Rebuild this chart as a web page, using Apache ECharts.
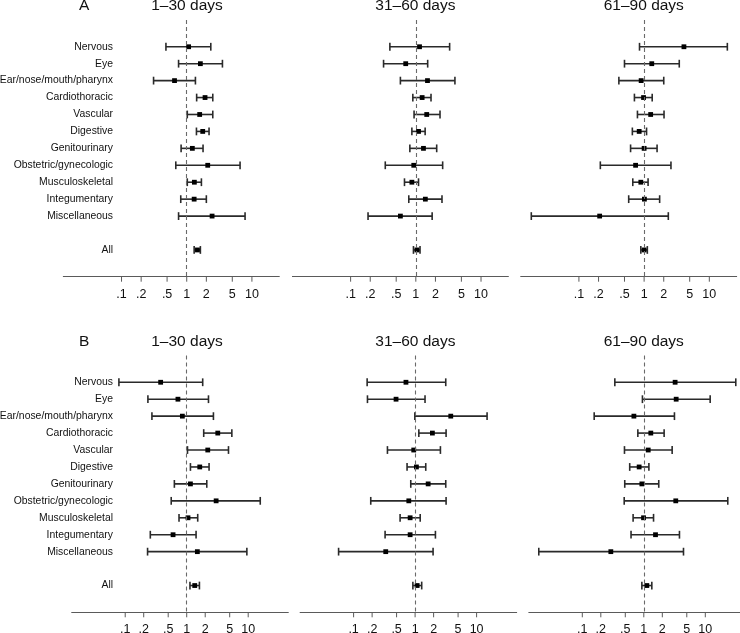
<!DOCTYPE html>
<html>
<head>
<meta charset="utf-8">
<script src="https://cdn.jsdelivr.net/npm/echarts@6/dist/echarts.min.js"></script>
<style>
html,body{margin:0;padding:0;background:#fff;}
#chart{width:740px;height:633px;}
</style>
</head>
<body>
<div id="chart"></div>
<script>
// ---- Data ----
const categories = ['Nervous','Eye','Ear/nose/mouth/pharynx','Cardiothoracic','Vascular','Digestive','Genitourinary','Obstetric/gynecologic','Musculoskeletal','Integumentary','Miscellaneous','All'];
const rowPositions = [1,2,3,4,5,6,7,8,9,10,11,13];
const panelTitles = ['1\u201330 days','31\u201360 days','61\u201390 days'];
const rowLetters = ['A','B'];
const tickValues = [0.1,0.2,0.5,1,2,5,10];

// Panel A
const a1Lo = [0.48,0.75,0.31,1.42,1.02,1.41,0.82,0.68,1.02,0.81,0.75,1.30];
const a1Pt = [1.07,1.62,0.65,1.91,1.58,1.76,1.22,2.10,1.31,1.30,2.45,1.46];
const a1Hi = [2.34,3.53,1.36,2.51,2.51,2.20,1.78,6.58,1.68,2.00,7.85,1.62];

const a2Lo = [0.40,0.32,0.58,0.90,0.94,0.87,0.81,0.34,0.67,0.78,0.185,0.92];
const a2Pt = [1.14,0.70,1.51,1.25,1.47,1.10,1.31,0.93,0.87,1.40,0.58,1.04];
const a2Hi = [3.30,1.52,3.98,1.71,2.35,1.39,2.09,2.58,1.10,2.52,1.78,1.16];

const a3Lo = [0.85,0.50,0.41,0.71,0.79,0.66,0.62,0.213,0.67,0.58,0.0186,0.89];
const a3Pt = [4.08,1.31,0.90,0.98,1.26,0.84,1.00,0.74,0.89,1.01,0.208,1.00];
const a3Hi = [18.9,3.46,2.00,1.33,2.02,1.09,1.58,2.58,1.15,1.73,2.35,1.12];

// Panel B
const b1Lo = [0.079,0.234,0.272,1.89,1.03,1.15,0.63,0.56,0.75,0.256,0.231,1.13];
const b1Pt = [0.377,0.72,0.85,3.20,2.20,1.63,1.15,3.01,1.05,0.60,1.49,1.35];
const b1Hi = [1.82,2.26,2.72,5.42,4.78,2.31,2.12,15.7,1.51,1.42,9.51,1.61];

const b2Lo = [0.166,0.168,0.99,1.15,0.355,0.74,0.85,0.19,0.57,0.325,0.057,0.92];
const b2Pt = [0.71,0.49,3.80,1.91,0.95,1.05,1.63,0.79,0.83,0.83,0.333,1.08];
const b2Hi = [3.15,1.45,14.8,3.19,2.58,1.49,3.15,3.19,1.21,2.14,1.96,1.28];

const b3Lo = [0.338,0.95,0.156,0.80,0.485,0.59,0.49,0.48,0.67,0.62,0.0196,0.93];
const b3Pt = [3.23,3.36,0.69,1.30,1.18,0.84,0.93,3.31,0.99,1.55,0.291,1.12];
const b3Hi = [31.3,12.0,3.15,2.14,2.89,1.21,1.75,23.2,1.44,3.80,4.42,1.35];

const panels = [
  [a1Lo,a1Pt,a1Hi],[a2Lo,a2Pt,a2Hi],[a3Lo,a3Pt,a3Hi],
  [b1Lo,b1Pt,b1Hi],[b2Lo,b2Pt,b2Hi],[b3Lo,b3Pt,b3Hi]
];

// ---- Layout ----
// The x axes are logarithmic: values are placed on a linear axis in log10 units
// and the tick labels show the original ratios.
const FONT = '"Liberation Sans", Arial, Helvetica, sans-serif';
const Y_MIN = -0.58, Y_MAX = 14.58;
const rowLayout = [
  {top: 20, height: 256.7, lefts: [63.3, 292.4, 520.7], width: 216, xmin: -1.893, xmax: 1.42, titleY: 5.5, labelOffset: -53.7},
  {top: 355.5, height: 256.8, lefts: [71.7, 300.1, 528.8], width: 216.6, xmin: -1.87, xmax: 1.652, titleY: 342, labelOffset: -45.3}
];
const oneX = [187, 415.4, 643.8];
const AXIS_COLOR = '#5a5a5a';
const lg = Math.log10;
const tickLogs = tickValues.map(lg);

const grids = [], xAxes = [], yAxes = [], series = [], graphics = [];
const nameByPos = {};
rowPositions.forEach((p,i)=>{ nameByPos[p] = categories[i]; });

function tickFmt(lv){
  const v = Math.pow(10, lv);
  const s = String(Math.round(v*1000)/1000);
  return s.startsWith('0.') ? s.slice(1) : s;
}

for (let r = 0; r < 2; r++) {
  const L = rowLayout[r];
  graphics.push({type:'text', x: 79, y: L.titleY, style:{text: rowLetters[r], font: '15.5px ' + FONT, fill:'#111', textVerticalAlign:'middle'}});
  for (let c = 0; c < 3; c++) {
    const idx = r*3 + c;
    grids.push({left: L.lefts[c], top: L.top, width: L.width, height: L.height, containLabel: false, outerBoundsMode: 'none'});
    xAxes.push({
      type: 'value', gridIndex: idx, min: L.xmin, max: L.xmax, position: 'bottom',
      axisLine: {show: true, onZero: false, lineStyle: {color: AXIS_COLOR, width: 1}},
      axisTick: {show: false},
      axisLabel: {show: true, customValues: tickLogs, formatter: tickFmt, color: '#111', fontSize: 12.5, fontFamily: FONT, margin: 11},
      splitLine: {show: false}, minorTick: {show: false}, minorSplitLine: {show: false}
    });
    yAxes.push({
      type: 'value', gridIndex: idx, inverse: true, min: Y_MIN, max: Y_MAX,
      offset: c === 0 ? L.labelOffset : 0,
      axisLine: {show: false, onZero: false}, axisTick: {show: false}, splitLine: {show: false},
      axisLabel: {
        show: c === 0, customValues: rowPositions, margin: 4,
        formatter: v => nameByPos[v] || '', color: '#111', fontSize: 10.4, fontFamily: FONT
      }
    });
    const [lo, pt, hi] = panels[idx];
    const data = rowPositions.map((p,i)=>[p, lg(lo[i]), lg(pt[i]), lg(hi[i])]);
    series.push({
      type: 'line', xAxisIndex: idx, yAxisIndex: idx, data: [], silent: true, z: 1,
      markLine: {silent: true, symbol: 'none', label: {show: false},
        lineStyle: {type: [4,3], color: '#6a6a6a', width: 1.1}, data: [{xAxis: lg(1)}]}
    });
    series.push({
      type: 'custom', xAxisIndex: idx, yAxisIndex: idx, z: 3, silent: true, clip: false,
      encode: {x: [1,2,3], y: 0},
      data: data,
      renderItem: function(params, api){
        const y = api.value(0);
        const pLo = api.coord([api.value(1), y]);
        const pPt = api.coord([api.value(2), y]);
        const pHi = api.coord([api.value(3), y]);
        const h = 3.9, s = 2.4;
        const st = {stroke: '#2a2a2a', lineWidth: 1.6};
        const children = [
          {type:'line', shape:{x1:pLo[0], y1:pLo[1], x2:pHi[0], y2:pHi[1]}, style: st},
          {type:'line', shape:{x1:pLo[0], y1:pLo[1]-h, x2:pLo[0], y2:pLo[1]+h}, style: st},
          {type:'line', shape:{x1:pHi[0], y1:pHi[1]-h, x2:pHi[0], y2:pHi[1]+h}, style: st},
          {type:'rect', shape:{x:pPt[0]-s, y:pPt[1]-s, width:2*s, height:2*s}, style:{fill:'#000'}}
        ];
        if (params.dataIndex === 0) {
          // x-axis tick marks at the labelled values, placed through the axis scales
          tickLogs.forEach(t => {
            const b = api.coord([t, Y_MAX]);
            children.push({type:'line', shape:{x1:b[0], y1:b[1], x2:b[0], y2:b[1]+5}, style:{stroke: AXIS_COLOR, lineWidth: 1}});
          });
        }
        return {type: 'group', children: children};
      }
    });
    graphics.push({type:'text', x: oneX[c], y: L.titleY, style:{text: panelTitles[c], font: '15.5px ' + FONT, fill:'#111', textAlign:'center', textVerticalAlign:'middle'}});
  }
}

const chart = echarts.init(document.getElementById('chart'), null, {renderer: 'canvas'});
chart.setOption({
  animation: false,
  backgroundColor: '#fff',
  grid: grids, xAxis: xAxes, yAxis: yAxes, series: series, graphic: graphics
});
</script>
</body>
</html>
